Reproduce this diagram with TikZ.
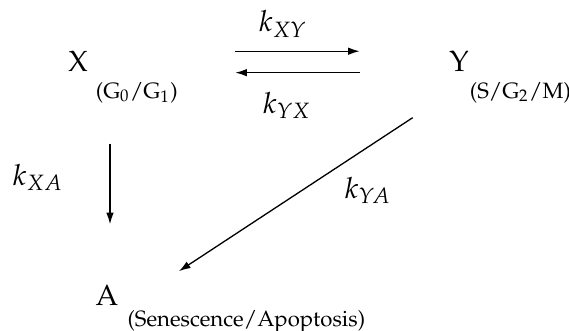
\documentclass[tikz,border=0pt]{standalone}
\usepackage[T1]{fontenc}
\usepackage{mathpazo}
\usepackage{tikz}
\usetikzlibrary{arrows.meta,positioning,calc}

\begin{document}
\begin{tikzpicture}[
  x=0.343pt, y=-0.343pt,
  state/.style={inner sep=0pt, anchor=base, font=\fontsize{10}{12}\selectfont},
  phase/.style={inner sep=0pt, anchor=base west, font=\fontsize{7.6}{9}\selectfont},
  rate/.style={inner sep=0pt, anchor=base, font=\fontsize{10}{12}\selectfont},
  arr/.style={-{Latex[length=4pt,width=2.6pt]}, line width=0.45pt}
]
\useasboundingbox (0,0) rectangle (569,331);

% --- cell states ---
\node[state] (X) at (78,72) {X};
\node[state] (Y) at (459,72) {Y};
\node[state] (A) at (107,305) {A};

% --- phase labels ---
\node[phase] (Xp) at ([shift={(7,26)}]X.base east) {(G$_0$/G$_1$)};
\node[phase] (Yp) at ([shift={(0,26)}]Y.base east) {(S/G$_2$/M)};
\node[phase] (Ap) at ([shift={(8,21)}]A.base east) {(Senescence/Apoptosis)};

% --- transitions ---
\draw[arr] ([shift={(147,0)}]X.north east) -- ([shift={(-89,0)}]Y.north west);
\draw[arr] ([shift={(-89,0)}]Y.south west) -- ([shift={(147,0)}]X.south east);
\draw[arr] ([shift={(32,71)}]X.south) -- ([shift={(3,-60)}]A.north);
\draw[arr] ([shift={(-36,45)}]Y.south west) -- ([shift={(60,-13)}]A.north east);

% --- rates ---
\node[rate] (kxy) at (283,32) {$k_{XY}$};
\node[rate] (kyx) at (287,113) {$k_{YX}$};
\node[rate] (kxa) at (38,185) {$k_{XA}$};
\node[rate] (kya) at (368,198) {$k_{YA}$};

\end{tikzpicture}
\end{document}
